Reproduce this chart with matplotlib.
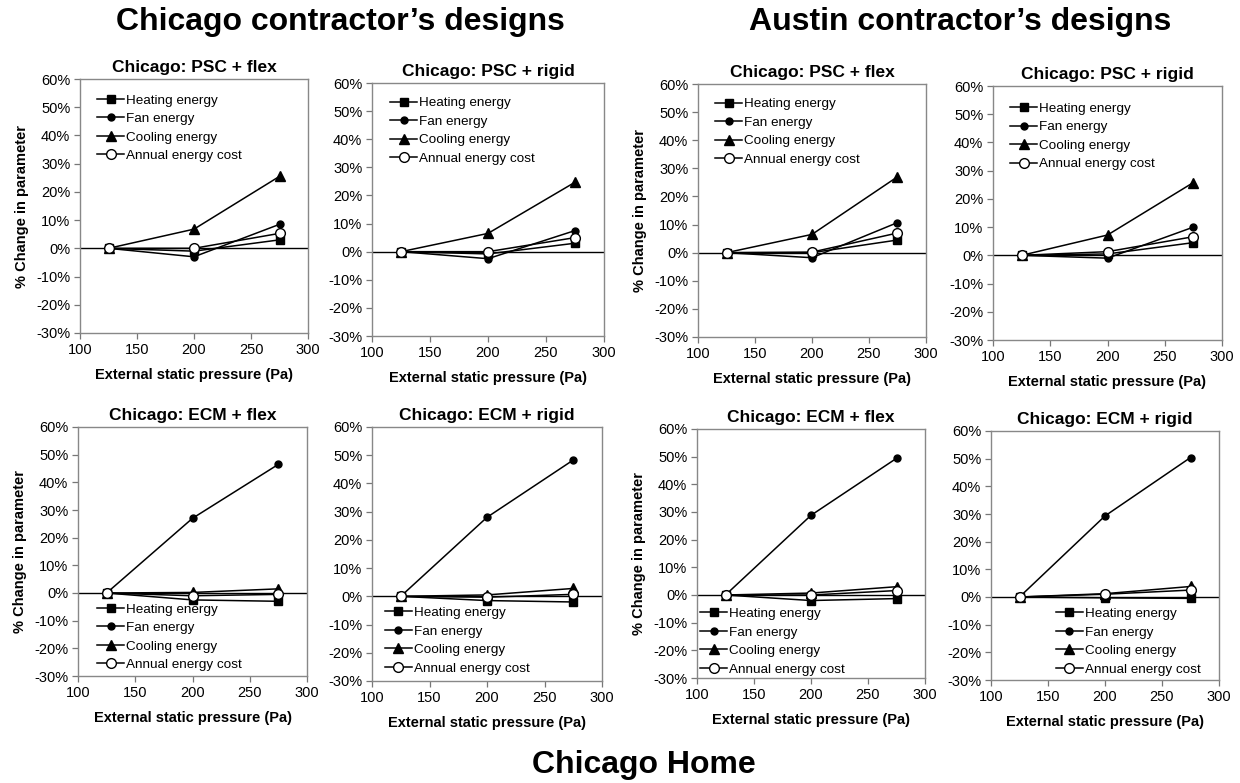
import matplotlib
matplotlib.use("Agg")
import matplotlib.pyplot as plt
from matplotlib.ticker import FuncFormatter

plt.rcParams['font.family'] = ['Liberation Sans', 'DejaVu Sans']
plt.rcParams['axes.unicode_minus'] = False

# ---------------- data ----------------
pressure = [125, 200, 275]
series_names = ["Heating energy", "Fan energy", "Cooling energy", "Annual energy cost"]

panel_titles = [
    "Chicago: PSC + flex", "Chicago: PSC + rigid",
    "Chicago: PSC + flex", "Chicago: PSC + rigid",
    "Chicago: ECM + flex", "Chicago: ECM + rigid",
    "Chicago: ECM + flex", "Chicago: ECM + rigid",
]

# Chicago contractor's designs
p1_heating = [0, -1.0, 3.0]
p1_fan = [0, -3.0, 8.5]
p1_cooling = [0, 6.8, 25.5]
p1_cost = [0, 0.0, 5.3]

p2_heating = [0, -0.8, 3.0]
p2_fan = [0, -2.5, 7.5]
p2_cooling = [0, 6.5, 24.7]
p2_cost = [0, 0.0, 5.0]

p5_heating = [0, -2.5, -3.0]
p5_fan = [0, 27.0, 46.5]
p5_cooling = [0, 0.2, 1.5]
p5_cost = [0, -1.0, -0.5]

p6_heating = [0, -1.5, -2.0]
p6_fan = [0, 28.0, 48.3]
p6_cooling = [0, 0.5, 2.8]
p6_cost = [0, -0.3, 0.7]

# Austin contractor's designs
p3_heating = [0, 0.0, 4.5]
p3_fan = [0, -1.8, 10.7]
p3_cooling = [0, 6.5, 27.0]
p3_cost = [0, 0.2, 7.0]

p4_heating = [0, 0.5, 4.5]
p4_fan = [0, -1.0, 10.0]
p4_cooling = [0, 7.2, 25.8]
p4_cost = [0, 1.3, 6.6]

p7_heating = [0, -2.0, -1.3]
p7_fan = [0, 28.8, 49.4]
p7_cooling = [0, 0.7, 3.0]
p7_cost = [0, 0.0, 1.6]

p8_heating = [0, -0.3, -0.5]
p8_fan = [0, 29.3, 50.4]
p8_cooling = [0, 1.2, 3.8]
p8_cost = [0, 1.0, 2.5]

y_ticks = [-30, -20, -10, 0, 10, 20, 30, 40, 50, 60]
x_ticks = [100, 150, 200, 250, 300]

panels_data = [
    (p1_heating, p1_fan, p1_cooling, p1_cost),
    (p2_heating, p2_fan, p2_cooling, p2_cost),
    (p3_heating, p3_fan, p3_cooling, p3_cost),
    (p4_heating, p4_fan, p4_cooling, p4_cost),
    (p5_heating, p5_fan, p5_cooling, p5_cost),
    (p6_heating, p6_fan, p6_cooling, p6_cost),
    (p7_heating, p7_fan, p7_cooling, p7_cost),
    (p8_heating, p8_fan, p8_cooling, p8_cost),
]

# ---------------- layout ----------------
W, H = 1240, 783
fig = plt.figure(figsize=(W / 100, H / 100), dpi=100)

# pixel boxes: left, right, top, bottom
boxes = [
    (80, 308, 79, 333),
    (372, 604, 83, 336),
    (698, 926, 84, 337),
    (993, 1222, 86, 340),
    (78, 307, 427, 676),
    (372, 602, 427, 681),
    (697, 925, 429, 678),
    (991, 1219, 431, 680),
]
show_ylabel = [True, False, True, False, True, False, True, False]
legend_loc = [
    ('upper left', (0.075, 0.94)),
    ('upper left', (0.078, 0.945)),
    ('upper left', (0.075, 0.945)),
    ('upper left', (0.075, 0.935)),
    ('lower left', (0.085, 0.02)),
    ('lower left', (0.055, 0.025)),
    ('lower left', (0.015, 0.01)),
    ('lower left', (0.285, 0.018)),
]

styles = [
    dict(marker='s', markersize=6, markerfacecolor='black', markeredgecolor='black'),
    dict(marker='o', markersize=5, markerfacecolor='black', markeredgecolor='black'),
    dict(marker='^', markersize=6.5, markerfacecolor='black', markeredgecolor='black'),
    dict(marker='o', markersize=7, markerfacecolor='white', markeredgecolor='black'),
]

pct = FuncFormatter(lambda v, p: f"{int(round(v))}%")

for i, (box, data) in enumerate(zip(boxes, panels_data)):
    l, r, t, b = box
    ax = fig.add_axes([l / W, 1 - b / H, (r - l) / W, (b - t) / H])
    for name, vals, st in zip(series_names, data, styles):
        ax.plot(pressure, vals, color='black', linewidth=1.1, label=name,
                markeredgewidth=1.0, **st)
    ax.axhline(0, color='black', linewidth=1.0, zorder=1)
    ax.set_xlim(100, 300)
    ax.set_ylim(-30, 60)
    ax.set_xticks(x_ticks)
    ax.set_yticks(y_ticks)
    ax.yaxis.set_major_formatter(pct)
    ax.tick_params(axis='both', labelsize=10.5, length=4, width=0.9,
                   color='#777777', pad=3, direction='out')
    for s in ax.spines.values():
        s.set_color('#888888')
        s.set_linewidth(1.0)
    ax.set_title(panel_titles[i], fontsize=12.5, fontweight='bold', pad=5)
    ax.set_xlabel("External static pressure (Pa)", fontsize=10.5, fontweight='bold', labelpad=8)
    if show_ylabel[i]:
        ax.set_ylabel("% Change in parameter", fontsize=10.5, fontweight='bold', labelpad=5)
    loc, anchor = legend_loc[i]
    ax.legend(loc=loc, bbox_to_anchor=anchor, frameon=False, fontsize=9.7,
              handlelength=2.0, handletextpad=0.15, labelspacing=0.45,
              borderpad=0, borderaxespad=0)

fig.text(340 / W, 1 - 22 / H, "Chicago contractor\u2019s designs", ha='center', va='center',
         fontsize=23, fontweight='bold')
fig.text(960 / W, 1 - 22 / H, "Austin contractor\u2019s designs", ha='center', va='center',
         fontsize=23, fontweight='bold')
fig.text(644 / W, 1 - 765 / H, "Chicago Home", ha='center', va='center',
         fontsize=23, fontweight='bold')

fig.savefig("out.png", dpi=100, facecolor='white')
